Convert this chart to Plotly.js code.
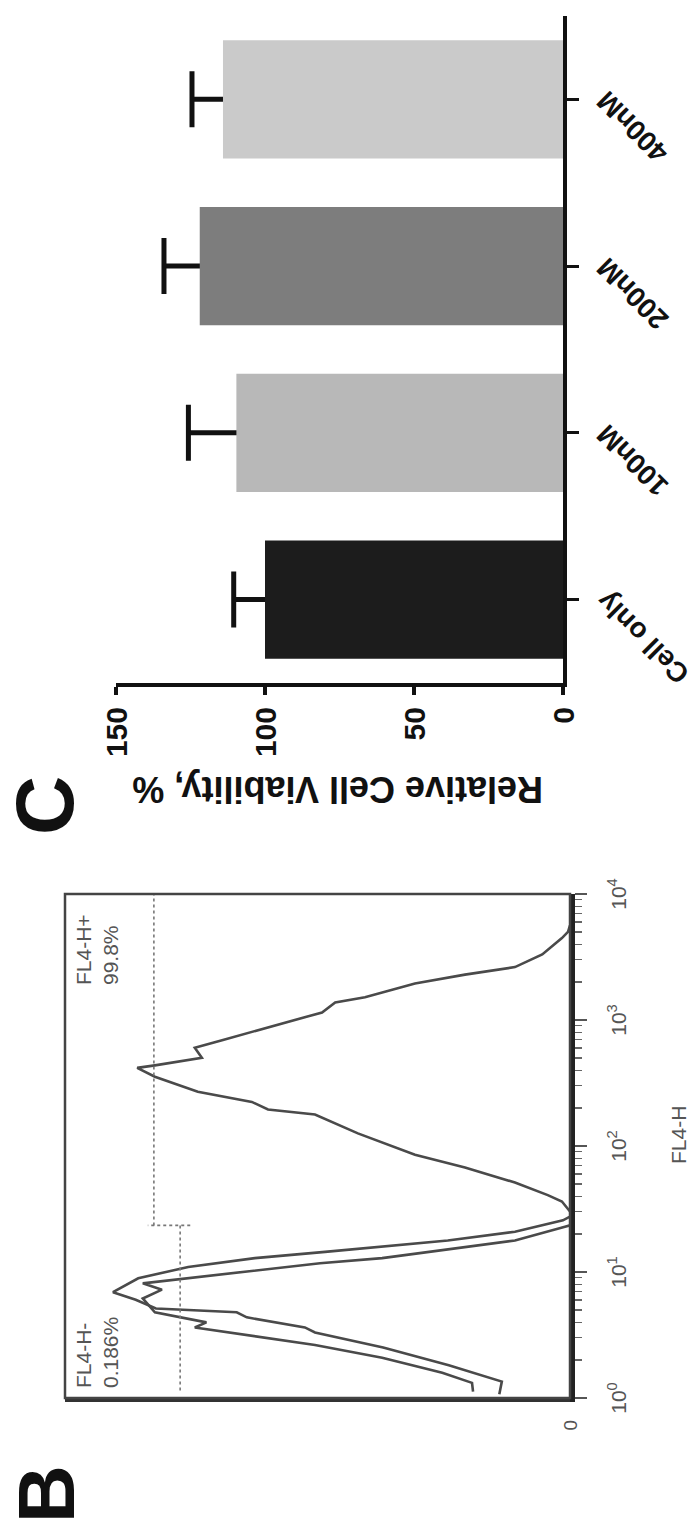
<!DOCTYPE html>
<html><head><meta charset="utf-8">
<script src="https://cdn.plot.ly/plotly-3.0.1.min.js"></script>
<style>
html,body{margin:0;padding:0;width:695px;height:1524px;overflow:hidden;background:#fff;}
#wrap{position:absolute;left:0;top:0;width:1524px;height:695px;transform-origin:0 0;transform:translateY(1524px) rotate(-90deg);}
#chart{width:1524px;height:695px;}
</style></head><body>
<div id="wrap"><div id="chart"></div></div>
<script>
// ---------- Panel C : relative cell viability ----------
const categories = ['Cell only', '100nM', '200nM', '400nM'];
const viability = [100, 109.6, 121.9, 114.1];
const viabilityErr = [10.5, 16.1, 12.0, 10.4];
const barColors = ['#1c1c1c', '#b8b8b8', '#7d7d7d', '#cacaca'];
const viabilityTicks = [0, 50, 100, 150];

// ---------- Panel B : FL4-H histogram (x in decades, y = relative count) ----------
const ctrl1Decade = [0.03, 0.13, 0.26, 0.40, 0.52, 0.56, 0.64, 0.68, 0.71, 0.78, 0.84, 0.95, 1.04, 1.11, 1.16, 1.20, 1.25, 1.32, 1.41, 1.44];
const ctrl1Count  = [14, 13.5, 24, 37, 50.5, 52.5, 64, 66, 82, 86, 90.5, 85.5, 75.6, 62.4, 48.5, 37.2, 24.2, 10.9, 1.4, 0];
const ctrl2Decade = [0.05, 0.12, 0.20, 0.32, 0.42, 0.56, 0.60, 0.68, 0.79, 0.86, 0.91, 0.98, 1.07, 1.11, 1.18, 1.25, 1.36, 1.37];
const ctrl2Count  = [19.2, 19.4, 25.3, 37.2, 50.5, 74.3, 72, 82.2, 84.6, 80.8, 84.6, 68.9, 49.5, 37.2, 24.2, 10.9, 1, 0];
const stainDecade = [1.48, 1.56, 1.61, 1.71, 1.83, 1.93, 2.10, 2.21, 2.25, 2.29, 2.35, 2.43, 2.55, 2.62, 2.64, 2.70, 2.78, 2.84, 2.94, 3.06, 3.14, 3.18, 3.29, 3.36, 3.42, 3.52, 3.65, 3.70, 3.75];
const stainCount  = [0, 1.6, 4.4, 10.9, 20.8, 30.7, 42.0, 48.5, 50.5, 59.8, 63.0, 73.7, 82.2, 85.7, 82.2, 72.9, 74.3, 68.9, 59.8, 49.1, 46.5, 40.6, 30.7, 20.8, 10.9, 5.5, 1.6, 0.4, 0];

const fl4TickVals = [1, 10, 100, 1000, 10000];
const fl4TickText = ['10<sup>0</sup>', '10<sup>1</sup>', '10<sup>2</sup>', '10<sup>3</sup>', '10<sup>4</sup>'];
const fl4MinorVals = [2,3,4,5,6,7,8,9,20,30,40,50,60,70,80,90,200,300,400,500,600,700,800,900,2000,3000,4000,5000,6000,7000,8000,9000];

const gateNegDecade = [0.06, 1.37];
const gateNegLevel = [77.2, 77.2];
const gatePosDecade = [1.37, 4.0];
const gatePosLevel = [82.4, 82.4];
const gateSplitDecade = [1.37, 1.37];
const gateSplitLevel = [75.2, 83.6];
const gateNegText = 'FL4-H-<br>0.186%';
const gatePosText = 'FL4-H+<br>99.8%';

// ---------- helpers ----------
const W = 1524, H = 695;
const px = v => v / W;
const py = v => 1 - v / H;
const dec = arr => arr.map(v => Math.pow(10, v));
const FONT = 'Liberation Sans, Arial, sans-serif';

const histLine = {color: '#4a4a4a', width: 2.6};
const gateLine = {color: '#777', width: 1.6, dash: 'dot'};

const traces = [
  {type: 'scatter', mode: 'lines', x: dec(ctrl1Decade), y: ctrl1Count, line: histLine, xaxis: 'x', yaxis: 'y', hoverinfo: 'skip'},
  {type: 'scatter', mode: 'lines', x: dec(ctrl2Decade), y: ctrl2Count, line: histLine, xaxis: 'x', yaxis: 'y', hoverinfo: 'skip'},
  {type: 'scatter', mode: 'lines', x: dec(stainDecade), y: stainCount, line: histLine, xaxis: 'x', yaxis: 'y', hoverinfo: 'skip'},
  {type: 'scatter', mode: 'lines', x: dec(gateNegDecade), y: gateNegLevel, line: gateLine, xaxis: 'x', yaxis: 'y'},
  {type: 'scatter', mode: 'lines', x: dec(gatePosDecade), y: gatePosLevel, line: gateLine, xaxis: 'x', yaxis: 'y'},
  {type: 'scatter', mode: 'lines', x: dec(gateSplitDecade), y: gateSplitLevel, line: gateLine, xaxis: 'x', yaxis: 'y'},
  // error bars (drawn first; their lower end is hidden under the bars drawn next)
  {type: 'bar', x: categories, y: viability, xaxis: 'x2', yaxis: 'y2', width: 0.71,
   marker: {color: 'rgba(0,0,0,0)', line: {width: 0}},
   error_y: {type: 'data', symmetric: false, array: viabilityErr, arrayminus: viabilityErr.map(() => 6),
             thickness: 5, width: 28, color: '#111'}},
  // bars
  {type: 'bar', x: categories, y: viability, xaxis: 'x2', yaxis: 'y2', width: 0.71,
   marker: {color: barColors, line: {width: 0}}}
];

const layout = {
  width: W, height: H, showlegend: false, barmode: 'overlay',
  margin: {l: 0, r: 0, t: 0, b: 0, pad: 0},
  paper_bgcolor: '#fff', plot_bgcolor: 'rgba(0,0,0,0)',
  font: {family: FONT, color: '#111'},
  xaxis: {
    type: 'log', range: [0, 4], domain: [px(126), px(630)], anchor: 'y',
    showline: true, linewidth: 5, linecolor: '#222', mirror: false,
    showgrid: false, zeroline: false, automargin: false,
    tickmode: 'array', tickvals: fl4TickVals, ticktext: fl4TickText,
    ticks: 'outside', ticklen: 12, tickwidth: 1.5, tickcolor: '#555',
    ticklabelstandoff: 14,
    tickfont: {size: 21, color: '#555', family: FONT},
    minor: {tickmode: 'array', tickvals: fl4MinorVals, ticks: 'outside', ticklen: 7, tickwidth: 1.2, tickcolor: '#666', showgrid: false}
  },
  yaxis: {
    range: [0, 100], domain: [py(570), py(65)], anchor: 'x',
    showline: true, linewidth: 4, linecolor: '#333',
    showgrid: false, zeroline: false, automargin: false,
    tickmode: 'array', tickvals: [0], ticktext: ['0'], ticks: '',
    ticklabelstandoff: 14,
    tickfont: {size: 19, color: '#555', family: FONT}
  },
  xaxis2: {
    type: 'category', range: [-0.5, 3.5], domain: [px(841), px(1508)], anchor: 'y2',
    showline: true, linewidth: 4, linecolor: '#111',
    showgrid: false, zeroline: false, automargin: false,
    ticks: 'outside', ticklen: 12, tickwidth: 3, tickcolor: '#111',
    tickangle: -45,
    tickfont: {size: 28, color: '#111', family: FONT, weight: 'bold'}
  },
  yaxis2: {
    range: [0, 150], domain: [py(563), py(116)], anchor: 'x2',
    showline: true, linewidth: 4, linecolor: '#111',
    showgrid: false, zeroline: false, automargin: false,
    tickmode: 'array', tickvals: viabilityTicks,
    ticks: 'outside', ticklen: 8, tickwidth: 4, tickcolor: '#111',
    ticklabelstandoff: 6,
    tickfont: {size: 30, color: '#111', family: FONT, weight: 'bold'}
  },
  shapes: [
    {type: 'rect', xref: 'x domain', yref: 'y domain', x0: 0, x1: 1, y0: 0, y1: 1,
     line: {color: '#444', width: 2.5}, fillcolor: 'rgba(0,0,0,0)', layer: 'above'}
  ],
  annotations: [
    {text: 'B', x: 0, y: py(47), xref: 'paper', yref: 'paper', showarrow: false, borderpad: 0,
     xanchor: 'left', yanchor: 'middle', font: {size: 80, family: FONT, weight: 'bold', color: '#111'}},
    {text: 'C', x: px(718), y: py(44), xref: 'paper', yref: 'paper', showarrow: false, borderpad: 0,
     xanchor: 'center', yanchor: 'middle', font: {size: 82, family: FONT, weight: 'bold', color: '#111'}},
    {text: 'Relative Cell Viability, %', x: px(734), y: py(338), xref: 'paper', yref: 'paper', showarrow: false,
     textangle: -90, xanchor: 'center', yanchor: 'middle', font: {size: 36, family: FONT, weight: 'bold', color: '#111'}},
    {text: 'FL4-H', x: px(389), y: py(678), xref: 'paper', yref: 'paper', showarrow: false,
     xanchor: 'center', yanchor: 'middle', font: {size: 21, family: FONT, color: '#555'}},
    {text: gateNegText, x: px(134), y: py(70), xref: 'paper', yref: 'paper', showarrow: false,
     xanchor: 'left', yanchor: 'top', align: 'left', font: {size: 21, family: FONT, color: '#555'}},
    {text: gatePosText, x: px(537), y: py(70), xref: 'paper', yref: 'paper', showarrow: false,
     xanchor: 'left', yanchor: 'top', align: 'left', font: {size: 21, family: FONT, color: '#555'}}
  ]
};

Plotly.newPlot('chart', traces, layout, {staticPlot: true, displayModeBar: false});
</script>
</body></html>
